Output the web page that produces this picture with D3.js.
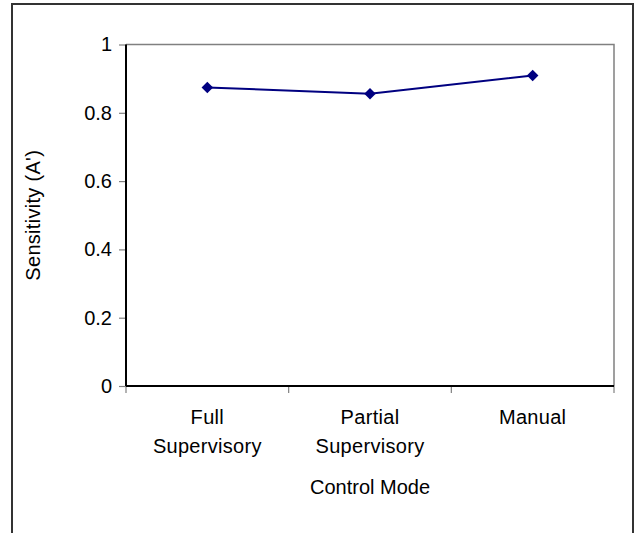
<!DOCTYPE html>
<html>
<head>
<meta charset="utf-8">
<script src="https://cdn.jsdelivr.net/npm/d3@7"></script>
<style>
  html, body { margin: 0; padding: 0; background: #fff; }
  svg { display: block; }
  text { font-family: "Liberation Sans", Arial, sans-serif; fill: #000; }
</style>
</head>
<body>
<svg id="chart" width="636" height="533"></svg>
<script>
// Sensitivity (A') by control mode
const categories = [["Full", "Supervisory"], ["Partial", "Supervisory"], ["Manual"]];
const sensitivity = [0.874, 0.856, 0.909];
const yTicks = [0, 0.2, 0.4, 0.6, 0.8, 1];

const svg = d3.select("#chart");
const W = 636, H = 533;
const plot = { left: 126, right: 614, top: 44.5, bottom: 386 };
const fontSize = 20;

// outer chart frame
svg.append("rect")
  .attr("x", 12).attr("y", 4)
  .attr("width", 621).attr("height", H + 10)
  .attr("fill", "none").attr("stroke", "#333").attr("stroke-width", 2);

const keys = categories.map((c, i) => i);
const x = d3.scaleBand().domain(keys).range([plot.left, plot.right]).paddingInner(0).paddingOuter(0);
const y = d3.scaleLinear().domain([0, 1]).range([plot.bottom, plot.top]);

// plot-area border on top and right
svg.append("path")
  .attr("d", `M${plot.left},${plot.top}H${plot.right}V${plot.bottom}`)
  .attr("fill", "none").attr("stroke", "#808080").attr("stroke-width", 1.5);

// y axis
const yAxis = svg.append("g").attr("transform", `translate(${plot.left},0)`)
  .call(d3.axisLeft(y).tickValues(yTicks).tickSize(7).tickPadding(7)
    .tickFormat(d => d === 0 || d === 1 ? d3.format("d")(d) : d3.format(".1f")(d)));
yAxis.select(".domain").remove();
yAxis.selectAll(".tick line").attr("stroke", "#808080").attr("stroke-width", 1.2);
yAxis.selectAll(".tick text").style("font-size", fontSize + "px")
  .style("font-family", "'Liberation Sans', Arial, sans-serif");
svg.append("line")
  .attr("x1", plot.left).attr("x2", plot.left)
  .attr("y1", plot.top).attr("y2", plot.bottom)
  .attr("stroke", "#000").attr("stroke-width", 2);

// x axis: ticks at category boundaries
const bounds = keys.map(k => x(k)).concat([plot.right]);
const xg = svg.append("g");
xg.selectAll("line.tick").data(bounds).join("line")
  .attr("class", "tick")
  .attr("x1", d => d).attr("x2", d => d)
  .attr("y1", plot.bottom).attr("y2", plot.bottom + 7)
  .attr("stroke", "#808080").attr("stroke-width", 1.2);
svg.append("line")
  .attr("x1", plot.left).attr("x2", plot.right)
  .attr("y1", plot.bottom).attr("y2", plot.bottom)
  .attr("stroke", "#000").attr("stroke-width", 2);

// category labels (two lines where needed)
const catText = xg.selectAll("text.cat").data(categories).join("text")
  .attr("class", "cat")
  .attr("text-anchor", "middle")
  .style("font-size", fontSize + "px")
  .style("letter-spacing", "0.3px")
  .attr("transform", (d, i) => `translate(${x(i) + x.bandwidth() / 2},${plot.bottom + 38})`);
catText.selectAll("tspan").data(d => d).join("tspan")
  .attr("x", 0).attr("dy", (d, i) => i === 0 ? 0 : 29)
  .text(d => d);

// axis titles
svg.append("text")
  .attr("x", (plot.left + plot.right) / 2).attr("y", plot.bottom + 108)
  .attr("text-anchor", "middle").style("font-size", fontSize + "px")
  .text("Control Mode");
svg.append("text")
  .attr("transform", `translate(40,${(plot.top + plot.bottom) / 2}) rotate(-90)`)
  .attr("text-anchor", "middle").style("font-size", fontSize + "px")
  .style("letter-spacing", "0.3px")
  .text("Sensitivity (A')");

// series line and diamond markers
const cx = i => x(i) + x.bandwidth() / 2;
svg.append("path")
  .datum(sensitivity)
  .attr("d", d3.line().x((d, i) => cx(i)).y(d => y(d)))
  .attr("fill", "none").attr("stroke", "#000080").attr("stroke-width", 2);
svg.selectAll("path.marker").data(sensitivity).join("path")
  .attr("class", "marker")
  .attr("d", d3.symbol().type(d3.symbolDiamond2).size(85))
  .attr("transform", (d, i) => `translate(${cx(i)},${y(d)})`)
  .attr("fill", "#000080");
</script>
</body>
</html>
